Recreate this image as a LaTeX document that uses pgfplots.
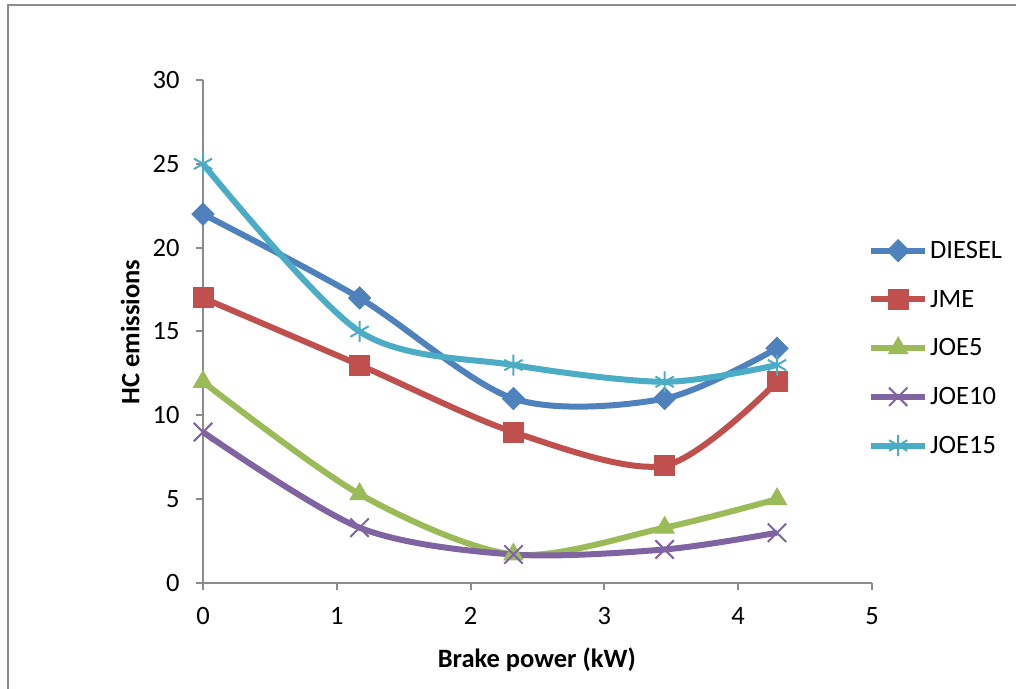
\documentclass[border=0pt]{standalone}
\usepackage{pgfplots}
\pgfplotsset{compat=1.18}
\usepackage{fontspec}
\setmainfont{Carlito}
\definecolor{cA}{HTML}{4F81BD}
\definecolor{cB}{HTML}{C0504D}
\definecolor{cC}{HTML}{9BBB59}
\definecolor{cD}{HTML}{8064A2}
\definecolor{cE}{HTML}{4BACC6}
\definecolor{axgray}{HTML}{8C8C8C}
\newcommand{\fs}{\fontsize{26.5}{31}\selectfont}
\begin{document}
\begin{tikzpicture}[x=1pt,y=1pt]
\useasboundingbox (0,0) rectangle (1016,688);
\draw[axgray, line width=2.5pt] (8,-10) -- (8,683) -- (1030,683);
\begin{axis}[
  at={(203pt,105pt)}, anchor=south west,
  scale only axis, width=669pt, height=503pt,
  xmin=0, xmax=5, ymin=0, ymax=30,
  xtick={0,1,2,3,4,5}, ytick={0,5,10,15,20,25,30},
  axis lines*=left,
  tick align=outside, major tick length=7pt,
  axis line style={draw=axgray, line width=2pt},
  tick style={draw=axgray, line width=2pt},
  ticklabel style={font=\fs},
  /pgf/number format/assume math mode=true,
  xticklabel style={yshift=-14pt},
  yticklabel style={xshift=-13pt},
  clip=false,
  xlabel={\textbf{Brake power (kW)}},
  ylabel={\textbf{HC emissions}},
  label style={font=\fs},
  xlabel style={at={(axis description cs:0.499,-0.153)}, anchor=center},
  ylabel style={at={(axis description cs:-0.109,0.499)}, anchor=center},
  every axis plot/.append style={line width=6pt, smooth},
  legend cell align=left,
  legend style={at={(axis description cs:0.994,0.467)}, anchor=west, draw=none, fill=none,
    inner sep=0pt, font=\fs, row sep=0pt,
    nodes={minimum height=48.7pt, inner sep=2pt}},
  legend image code/.code={\draw[#1, mark repeat=2, mark phase=2, line width=6pt] plot coordinates {(0pt,0pt) (27pt,0pt) (54pt,0pt)};},
]
\addplot[cA, mark=square*, mark size=7.8pt, mark options={solid, fill=cA, line width=1pt, rotate=45}]
  coordinates {(0,22) (1.17,17) (2.32,11) (3.45,11) (4.29,14)};
\addlegendentry{DIESEL}
\addplot[cB, mark=square*, mark size=10pt, mark options={solid, fill=cB, line width=1pt}]
  coordinates {(0,17) (1.17,13) (2.32,9) (3.45,7) (4.29,12)};
\addlegendentry{JME}
\addplot[cC, mark=triangle*, mark size=11pt, mark options={solid, fill=cC, line width=1pt}]
  coordinates {(0,12) (1.17,5.3) (2.32,1.7) (3.45,3.3) (4.29,5)};
\addlegendentry{JOE5}
\addplot[cD, mark=x, mark size=13pt, mark options={solid, line width=2pt}]
  coordinates {(0,9) (1.17,3.3) (2.32,1.7) (3.45,2) (4.29,3)};
\addlegendentry{JOE10}
\addplot[cE, mark=asterisk, mark size=10.5pt, mark options={solid, line width=2pt}]
  coordinates {(0,25) (1.17,15) (2.32,13) (3.45,12) (4.29,13)};
\addlegendentry{JOE15}
\end{axis}
\end{tikzpicture}
\end{document}
